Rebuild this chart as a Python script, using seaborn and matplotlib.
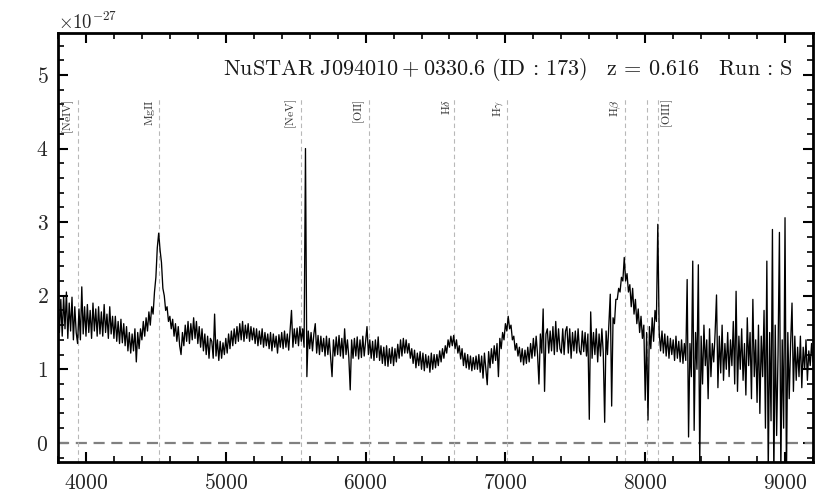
import numpy as np
import matplotlib
matplotlib.use("Agg")
from matplotlib import pyplot as plt
from matplotlib import transforms
from matplotlib.ticker import MultipleLocator
import seaborn as sb

# observed spectrum, 10 A steps starting at 3800 A, flux in units of 1e-27
wave_start = 3800
wave_step = 10
flux = [
    1.88, 1.50, 1.95, 1.45, 2.00, 1.55, 2.05, 1.42, 1.90, 1.52,
    1.98, 1.40, 1.85, 1.50, 1.35, 1.82, 1.40, 2.12, 1.48, 1.85,
    1.45, 1.88, 1.50, 1.80, 1.42, 1.90, 1.52, 1.82, 1.45, 1.85,
    1.48, 1.78, 1.45, 1.88, 1.50, 1.75, 1.42, 1.85, 1.48, 1.72,
    1.42, 1.72, 1.38, 1.65, 1.35, 1.68, 1.36, 1.62, 1.32, 1.58,
    1.25, 1.50, 1.22, 1.48, 1.25, 1.55, 1.10, 1.50, 1.28, 1.55,
    1.40, 1.65, 1.45, 1.70, 1.52, 1.78, 1.60, 1.85, 1.75, 2.05,
    2.25, 2.65, 2.85, 2.62, 2.45, 2.10, 2.00, 1.80, 1.85, 1.65,
    1.72, 1.55, 1.68, 1.45, 1.62, 1.38, 1.58, 1.32, 1.20, 1.50,
    1.32, 1.60, 1.38, 1.65, 1.35, 1.62, 1.40, 1.70, 1.42, 1.65,
    1.35, 1.58, 1.30, 1.55, 1.25, 1.48, 1.20, 1.45, 1.15, 1.42,
    1.38, 1.15, 1.75, 1.18, 1.40, 1.12, 1.38, 1.15, 1.36, 1.20,
    1.42, 1.22, 1.48, 1.28, 1.52, 1.32, 1.55, 1.35, 1.58, 1.38,
    1.62, 1.40, 1.65, 1.38, 1.60, 1.42, 1.62, 1.38, 1.58, 1.40,
    1.56, 1.35, 1.55, 1.32, 1.52, 1.34, 1.55, 1.30, 1.50, 1.32,
    1.48, 1.28, 1.50, 1.25, 1.48, 1.30, 1.45, 1.22, 1.47, 1.30,
    1.50, 1.28, 1.52, 1.30, 1.48, 1.26, 1.52, 1.80, 1.30, 1.55,
    1.35, 1.56, 1.32, 1.58, 1.38, 1.55, 1.30, 4.00, 0.90, 1.52,
    1.28, 1.50, 1.25, 1.48, 1.62, 1.22, 1.46, 1.20, 1.45, 1.24,
    1.42, 1.18, 1.45, 1.20, 1.42, 1.16, 0.90, 1.40, 1.18, 1.44,
    1.20, 1.46, 1.18, 1.42, 1.15, 1.55, 1.20, 1.40, 1.16, 0.72,
    1.40, 1.15, 1.42, 1.18, 1.44, 1.14, 1.40, 1.16, 1.45, 1.18,
    1.38, 1.58, 1.20, 1.40, 1.15, 1.38, 1.12, 1.40, 1.16, 1.44,
    1.12, 1.32, 1.08, 1.30, 1.05, 1.32, 1.04, 1.28, 1.08, 1.30,
    1.05, 1.28, 1.10, 1.34, 1.15, 1.40, 1.18, 1.42, 1.22, 1.40,
    1.22, 1.35, 1.15, 1.28, 1.08, 1.26, 1.02, 1.22, 1.05, 1.24,
    1.00, 1.22, 0.98, 1.20, 1.02, 1.18, 0.96, 1.22, 1.00, 1.20,
    1.02, 1.20, 1.05, 1.25, 1.10, 1.28, 1.15, 1.32, 1.22, 1.40,
    1.30, 1.45, 1.32, 1.46, 1.28, 1.40, 1.22, 1.32, 1.14, 1.28,
    1.05, 1.22, 1.02, 1.20, 1.00, 1.18, 0.98, 1.16, 1.00, 1.18,
    1.00, 1.20, 0.96, 1.18, 0.88, 1.22, 1.00, 0.79, 1.24, 1.02,
    1.28, 1.08, 1.32, 1.12, 1.35, 0.90, 1.42, 1.28, 1.50, 1.40,
    1.62, 1.52, 1.72, 1.55, 1.60, 1.40, 1.45, 1.26, 1.35, 1.18,
    1.30, 1.10, 1.28, 1.06, 1.26, 1.08, 1.30, 1.10, 1.35, 1.15,
    1.42, 1.18, 1.45, 1.20, 0.80, 1.48, 1.22, 1.82, 0.70, 1.48,
    1.55, 1.22, 1.52, 1.25, 1.58, 1.20, 1.65, 1.24, 1.55, 1.28,
    1.22, 1.55, 1.20, 1.52, 1.58, 1.22, 1.55, 1.15, 1.50, 1.25,
    1.52, 1.22, 1.55, 1.25, 1.20, 1.52, 1.24, 1.50, 1.18, 1.48,
    0.32, 1.78, 1.15, 1.50, 1.20, 1.55, 1.10, 1.48, 1.18, 1.55,
    1.22, 0.28, 1.52, 1.20, 1.60, 2.02, 0.50, 1.70, 1.62, 1.95,
    1.95, 2.10, 2.05, 2.25, 2.20, 2.52, 2.20, 2.30, 2.05, 2.15,
    1.85, 2.10, 1.75, 1.95, 1.62, 1.82, 1.50, 1.72, 1.42, 1.60,
    0.58, 1.50, 0.31, 1.58, 1.28, 1.70, 1.38, 1.80, 1.65, 2.97,
    1.50, 1.25, 1.52, 1.22, 1.48, 1.18, 1.45, 1.15, 1.42, 1.20,
    1.40, 1.12, 1.45, 1.15, 1.38, 1.10, 1.40, 1.08, 1.35, 1.12,
    2.22, 0.08, 1.35, 0.90, 2.47, 0.17, 1.50, 1.00, 2.42, -0.30,
    1.45, 0.80, 1.60, 1.05, 1.40, 0.60, 1.55, 0.90, 1.35, 1.10,
    1.50, 2.01, 0.75, 1.45, 0.95, 1.60, 0.85, 1.35, 1.00, 1.50,
    0.90, 1.40, 1.05, 1.65, 0.80, 2.06, 0.70, 1.45, 1.00, 1.55,
    0.85, 1.35, 0.65, 1.70, 1.05, 1.50, 0.60, 1.95, 0.90, 1.40,
    0.55, 1.60, 0.40, 1.45, 0.90, 1.80, 0.20, 2.47, -0.40, 1.50,
    0.30, 2.90, -0.50, 1.60, 0.10, 1.20, 2.86, -0.40, 1.40, 0.20,
    3.06, -0.50, 1.50, 0.60, 1.35, 1.90, 0.70, 1.45, 0.85, 1.30,
    0.90, 1.45, 0.75, 1.30, 1.00, 1.40, 0.85, 1.25, 1.05, 1.35,
    1.10,
]

redshift = 0.616
line_rest = [2440, 2798, 3426, 3727, 4102, 4340, 4861, 4959, 5007]
line_names = [r'$[\mathrm{NeIV}]$', r'$\mathrm{MgII}$', r'$[\mathrm{NeV}]$', r'$[\mathrm{OII}]$',
              r'$\mathrm{H}\delta$', r'$\mathrm{H}\gamma$', r'$\mathrm{H}\beta$', '', r'$[\mathrm{OIII}]$']
title = r'$\mathrm{NuSTAR\ J094010+0330.6\ (ID\,:\,173)\ \ \ z\,=\,0.616\ \ \ Run\,:\,S}$'

sb.set_theme(style='ticks')
plt.rcParams['font.family'] = 'serif'
plt.rcParams['font.serif'] = ['cmr10', 'DejaVu Serif']
plt.rcParams['mathtext.fontset'] = 'cm'
plt.rcParams['axes.formatter.use_mathtext'] = True
plt.rcParams['axes.unicode_minus'] = False

flux = np.array(flux) * 1e-27
wave = wave_start + wave_step * np.arange(len(flux))

fig = plt.figure(figsize=(8.3, 4.98), dpi=100)
ax = fig.add_axes([0.0699, 0.0723, 0.9096, 0.8614])

ax.axhline(0, color='0.5', lw=1.6, dashes=(5, 3), zorder=1)

for rest, name in zip(line_rest, line_names):
    obs = rest * (1 + redshift)
    ax.axvline(obs, ymax=0.847, color='0.72', lw=0.8, ls=(0, (4, 3)), zorder=1)
    if name == '':
        continue
    if 'OIII' in name:
        ax.text(obs + 12, 4.67e-27, name, rotation=90, ha='left', va='top', fontsize=8.5, color='0.2')
    else:
        ax.text(obs - 14, 4.67e-27, name, rotation=90, ha='right', va='top', fontsize=8.5, color='0.2')

sb.lineplot(x=wave, y=flux, color='black', lw=0.95, estimator=None, ax=ax, zorder=2)

ax.set_xlim(3800, 9200)
ax.set_ylim(-0.26e-27, 5.57e-27)
ax.xaxis.set_major_locator(MultipleLocator(1000))
ax.xaxis.set_minor_locator(MultipleLocator(200))
ax.yaxis.set_major_locator(MultipleLocator(1e-27))
ax.yaxis.set_minor_locator(MultipleLocator(0.2e-27))
ax.ticklabel_format(axis='y', style='sci', scilimits=(0, 0), useMathText=True)
ax.yaxis.get_offset_text().set_fontsize(13.5)
ax.yaxis.get_offset_text().set_color('0.15')
ax.tick_params(which='both', direction='in', top=True, right=True, labelsize=15.5,
               colors='black', labelcolor='0.15')
ax.tick_params(which='major', length=7, width=1.5)
ax.tick_params(which='minor', length=4.5, width=1.2)
ax.tick_params(axis='x', pad=8)
ax.tick_params(axis='y', pad=7)
for s in ax.spines.values():
    s.set_linewidth(2)
    s.set_color('black')

# title: x in axes fraction, y in data units
title_tf = transforms.blended_transform_factory(ax.transAxes, ax.transData)
ax.text(0.9735, 5.0e-27, title, transform=title_tf, fontsize=16, color='0.1',
        ha='right', va='baseline')

fig.savefig('out.png', dpi=100)
